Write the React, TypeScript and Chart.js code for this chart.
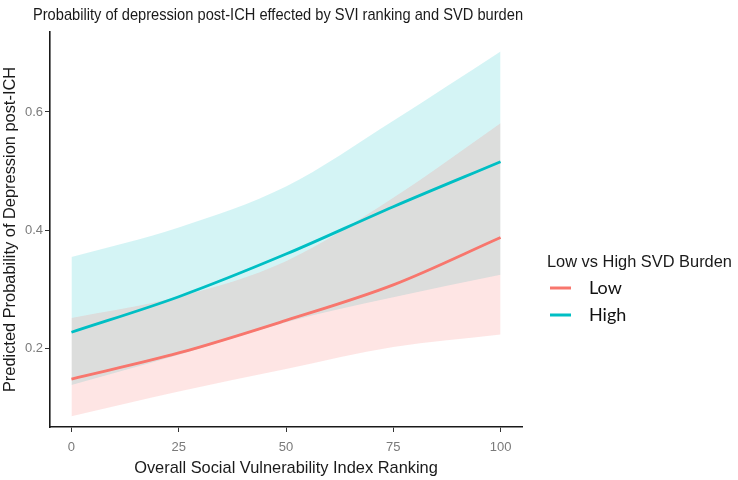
import { useEffect, useRef } from "react";
import { Chart, registerables } from "chart.js";

Chart.register(...registerables);

// ---- data ----
const titleText = "Probability of depression post-ICH effected by SVI ranking and SVD burden";
const xAxisTitle = "Overall Social Vulnerability Index Ranking";
const yAxisTitle = "Predicted Probability of Depression post-ICH";
const legendTitle = "Low vs High SVD Burden";
const seriesNames = ["Low", "High"];
const seriesColors = ["#F8766D", "#00BFC4"];
const bandColors = ["rgba(248,118,109,0.19)", "rgba(0,191,196,0.17)"];

const xValues = [0, 25, 50, 75, 100];
const lowFit = [0.149, 0.193, 0.248, 0.308, 0.388];
const lowUpper = [0.252, 0.288, 0.348, 0.455, 0.581];
const lowLower = [0.086, 0.128, 0.166, 0.203, 0.224];
const highFit = [0.228, 0.288, 0.36, 0.44, 0.516];
const highUpper = [0.355, 0.405, 0.474, 0.585, 0.702];
const highLower = [0.139, 0.19, 0.245, 0.287, 0.325];

const xTicks = [0, 25, 50, 75, 100];
const yTicks = [0.2, 0.4, 0.6];
const xRange = [-5, 105];
const yRange = [0.068, 0.735];

const pts = (ys: number[]) => xValues.map((x, i) => ({ x, y: ys[i] }));

const overlayPlugin = {
  id: "overlay",
  afterDraw(chart: any) {
    const ctx = chart.ctx as CanvasRenderingContext2D;
    const area = chart.chartArea;
    ctx.save();
    // title (condensed like the reference)
    ctx.fillStyle = "#1a1a1a";
    ctx.textAlign = "center";
    ctx.textBaseline = "alphabetic";
    ctx.font = '17px "Liberation Sans", Arial, sans-serif';
    ctx.save();
    ctx.translate((area.left + area.right) / 2 - 8, 20);
    ctx.scale(0.862, 1);
    ctx.fillText(titleText, 0, 0);
    ctx.restore();
    // legend
    const lx = area.right + 25;
    ctx.textAlign = "left";
    ctx.font = '16.4px "Liberation Sans", Arial, sans-serif';
    ctx.fillStyle = "#1a1a1a";
    ctx.fillText(legendTitle, lx, 267);
    seriesNames.forEach((name, i) => {
      const y = 288 + i * 27;
      ctx.strokeStyle = seriesColors[i];
      ctx.lineWidth = 3;
      ctx.beginPath();
      ctx.moveTo(lx + 3, y);
      ctx.lineTo(lx + 24, y);
      ctx.stroke();
      ctx.fillStyle = "#111";
      ctx.font = '18px Lato, "Open Sans", sans-serif';
      ctx.fillText(name, lx + 42, y + 6);
    });
    ctx.restore();
  },
};

export default function App() {
  const ref = useRef<HTMLCanvasElement | null>(null);
  useEffect(() => {
    if (!ref.current) return;
    Chart.defaults.font.family = '"Liberation Sans", Arial, sans-serif';
    const band = (data: number[], color: string, fill: any) => ({
      type: "line" as const,
      data: pts(data),
      borderWidth: 0,
      borderColor: "rgba(0,0,0,0)",
      backgroundColor: color,
      pointRadius: 0,
      fill,
      order: 2,
      cubicInterpolationMode: "monotone" as const,
    });
    const line = (data: number[], color: string, label: string) => ({
      type: "line" as const,
      label,
      data: pts(data),
      borderWidth: 2.8,
      borderColor: color,
      backgroundColor: color,
      pointRadius: 0,
      fill: false,
      order: 0,
      cubicInterpolationMode: "monotone" as const,
    });
    const chart = new Chart(ref.current, {
      type: "line",
      data: {
        datasets: [
          band(lowUpper, bandColors[0], "+1"),
          band(lowLower, bandColors[0], false),
          band(highUpper, bandColors[1], "+1"),
          band(highLower, bandColors[1], false),
          line(lowFit, seriesColors[0], seriesNames[0]),
          line(highFit, seriesColors[1], seriesNames[1]),
        ] as any,
      },
      options: {
        animation: false,
        responsive: false,
        devicePixelRatio: 1,
        layout: { padding: { left: 0, right: 216, top: 32, bottom: 0 } },
        plugins: {
          legend: { display: false },
          title: { display: false },
          tooltip: { enabled: false },
        },
        scales: {
          x: {
            type: "linear",
            min: xRange[0],
            max: xRange[1],
            afterFit: (s: any) => {
              s.height = 53;
            },
            afterBuildTicks: (axis: any) => {
              axis.ticks = xTicks.map((v) => ({ value: v }));
            },
            grid: {
              display: true,
              drawOnChartArea: false,
              drawTicks: true,
              tickLength: 5,
              color: "#333",
              lineWidth: 1,
            },
            border: { display: true, color: "#1a1a1a", width: 1.6 },
            ticks: {
              padding: 8,
              color: "#7a7a7a",
              font: { size: 13 },
              maxRotation: 0,
              callback: (v: any) => String(v),
            },
            title: {
              display: true,
              text: xAxisTitle,
              color: "#1a1a1a",
              font: { size: 16.4 },
              padding: { top: 0, bottom: 2 },
            },
          },
          y: {
            type: "linear",
            min: yRange[0],
            max: yRange[1],
            afterFit: (s: any) => {
              s.width = 50;
            },
            afterBuildTicks: (axis: any) => {
              axis.ticks = yTicks.map((v) => ({ value: v }));
            },
            grid: {
              display: true,
              drawOnChartArea: false,
              drawTicks: true,
              tickLength: 5,
              color: "#333",
              lineWidth: 1,
            },
            border: { display: true, color: "#1a1a1a", width: 1.6 },
            ticks: {
              padding: 2,
              color: "#7a7a7a",
              font: { size: 13 },
              callback: (v: any) => Number(v).toFixed(1),
            },
            title: {
              display: true,
              text: yAxisTitle,
              color: "#1a1a1a",
              font: { size: 16.4 },
              padding: { top: 1, bottom: 0 },
            },
          },
        },
      },
      plugins: [overlayPlugin],
    });
    return () => chart.destroy();
  }, []);
  return (
    <div style={{ position: "fixed", left: 0, top: 0, width: 738, height: 480, background: "#fff" }}>
      <canvas ref={ref} width={738} height={480} style={{ display: "block" }} />
    </div>
  );
}
